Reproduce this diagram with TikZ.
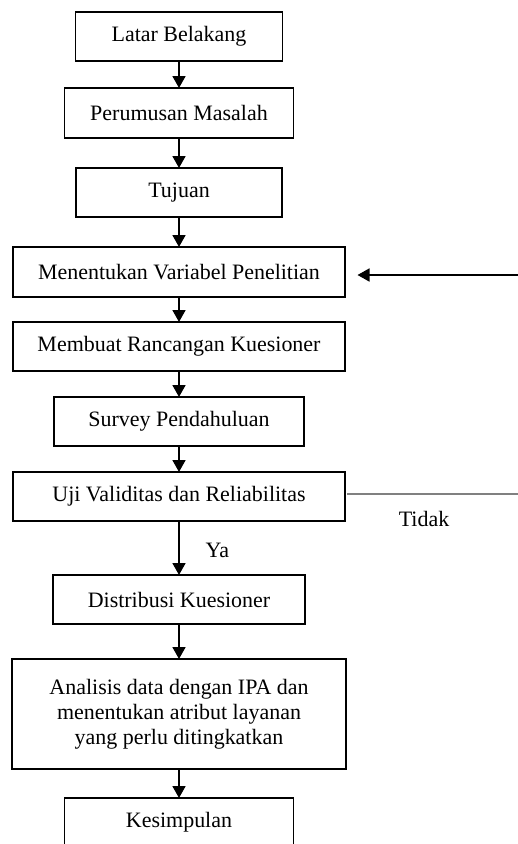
\documentclass[tikz,border=0pt]{standalone}
\usepackage{fontspec}
\setmainfont{Liberation Serif}
\usetikzlibrary{arrows.meta,positioning,calc}

\begin{document}
\begin{tikzpicture}[
    node distance=0.55cm,
    box/.style={rectangle, draw=black, line width=1pt, outer sep=0pt, align=center, minimum height=0.98cm, font=\fontsize{12.5}{14.2}\selectfont},
    lbl/.style={font=\fontsize{12.5}{14.2}\selectfont},
    arrow/.style={-{Triangle[width=0.26cm, length=0.24cm]}, line width=1pt, draw=black},
    back/.style={draw=gray, line width=0.7pt}
]
    \useasboundingbox (0,0) rectangle (10.36,-16.88);
    \node [box, minimum width=4.14cm] (latar) at (3.58,-0.73) {Latar Belakang};
    \node [box, minimum width=4.58cm, minimum height=1.0cm, below=0.54cm of latar] (rumusan) {Perumusan Masalah};
    \node [box, minimum width=4.12cm, below=0.6cm of rumusan] (tujuan) {Tujuan};
    \node [box, minimum width=6.64cm, minimum height=1.0cm, below=0.6cm of tujuan] (variabel) {Menentukan Variabel Penelitian};
    \node [box, minimum width=6.64cm, below=0.5cm of variabel] (rancangan) {Membuat Rancangan Kuesioner};
    \node [box, minimum width=5.0cm, below=0.52cm of rancangan] (survey) {Survey Pendahuluan};
    \node [box, minimum width=6.64cm, below=0.52cm of survey] (uji) {Uji Validitas dan Reliabilitas};
    \node [box, minimum width=5.04cm, below=1.08cm of uji] (distribusi) {Distribusi Kuesioner};
    \node [box, minimum width=6.68cm, minimum height=2.2cm, below=0.7cm of distribusi] (analisis) {Analisis data dengan IPA dan\\menentukan atribut layanan\\yang perlu ditingkatkan};
    \node [box, minimum width=4.58cm, below=0.58cm of analisis] (simpulan) {Kesimpulan};

    \draw [arrow] (latar) -- (rumusan);
    \draw [arrow] (rumusan) -- (tujuan);
    \draw [arrow] (tujuan) -- (variabel);
    \draw [arrow] (variabel) -- (rancangan);
    \draw [arrow] (rancangan) -- (survey);
    \draw [arrow] (survey) -- (uji);
    \draw [arrow] (uji) -- node [lbl, right=0.4cm, yshift=-0.04cm] {Ya} (distribusi);
    \draw [arrow] (distribusi) -- (analisis);
    \draw [arrow] (analisis) -- (simpulan);

    % balik ke variabel jika tidak valid
    \coordinate (masuk) at (10.36,-5.5);
    \coordinate (keluar) at (10.36,-9.88);
    \draw [arrow, shorten >=0.25cm] (masuk) -- (masuk -| variabel.east);
    \draw [back, shorten <=0.04cm] (keluar -| uji.east) -- (keluar);
    \node [lbl] (tidak) at (8.48,-10.38) {Tidak};
\end{tikzpicture}
\end{document}
